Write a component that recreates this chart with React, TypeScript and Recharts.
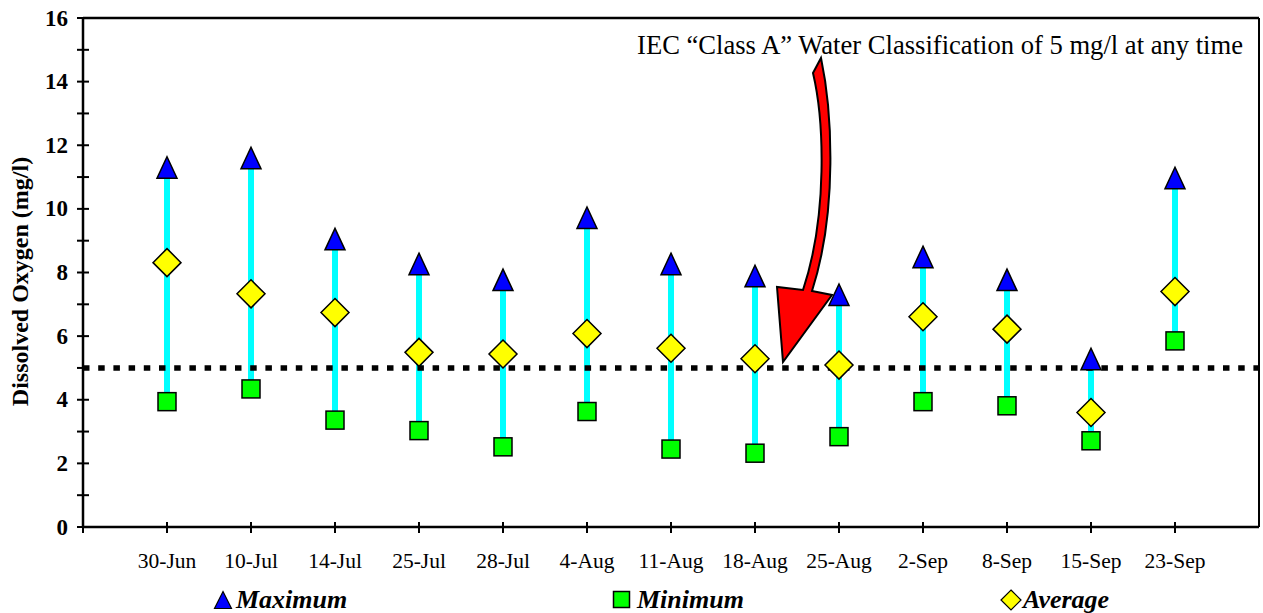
import React from 'react';
import {
  ComposedChart,
  Bar,
  Line,
  XAxis,
  YAxis,
  CartesianGrid,
  ReferenceLine,
  Legend,
} from 'recharts';

// sampling dates and dissolved oxygen readings (mg/l)
const dates = [
  '30-Jun', '10-Jul', '14-Jul', '25-Jul', '28-Jul', '4-Aug', '11-Aug',
  '18-Aug', '25-Aug', '2-Sep', '8-Sep', '15-Sep', '23-Sep',
];
const maximum = [11.3, 11.6, 9.05, 8.27, 7.77, 9.72, 8.27, 7.89, 7.3, 8.49, 7.77, 5.28, 10.97];
const minimum = [3.94, 4.34, 3.36, 3.03, 2.52, 3.63, 2.45, 2.32, 2.84, 3.94, 3.81, 2.71, 5.85];
const average = [8.31, 7.33, 6.74, 5.49, 5.44, 6.08, 5.62, 5.29, 5.09, 6.61, 6.22, 3.6, 7.4];

const yTicks = [0, 1, 2, 3, 4, 5, 6, 7, 8, 9, 10, 11, 12, 13, 14, 15, 16];
const gridValues = [2, 4, 6, 8, 10, 12, 14];
const classALimit = 5;

const W = 1263;
const H = 613;
const SERIF = '"Liberation Serif", "DejaVu Serif", "Noto Serif", Tinos, FreeSerif, "Times New Roman", Times, serif';

const rows = dates.map((date, i) => ({
  date,
  max: maximum[i],
  min: minimum[i],
  avg: average[i],
  range: [minimum[i], maximum[i]],
}));

function triangle(cx: number, cy: number, w: number, h: number) {
  return `${cx},${cy - h / 2} ${cx + w / 2},${cy + h / 2} ${cx - w / 2},${cy + h / 2}`;
}

function diamond(cx: number, cy: number, r: number) {
  return `${cx},${cy - r} ${cx + r},${cy} ${cx},${cy + r} ${cx - r},${cy}`;
}

const renderMax = (p: any) => (
  <polygon key={`max-${p.index}`} points={triangle(p.cx, p.cy, 20, 21.5)}
    fill="#0000ff" stroke="#000" strokeWidth={1.5} />
);

const renderMin = (p: any) => (
  <rect key={`min-${p.index}`} x={p.cx - 9} y={p.cy - 9} width={18} height={18}
    fill="#00ff00" stroke="#000" strokeWidth={1.5} />
);

const renderAvg = (p: any) => (
  <polygon key={`avg-${p.index}`} points={diamond(p.cx, p.cy, 14)}
    fill="#ffff00" stroke="#000" strokeWidth={1.5} />
);

function DateTick({ x, y, payload, index }: any) {
  return (
    <g>
      {/* extra mark at the left corner of the axis */}
      {index === 0 && (
        <line x1={x - 84} x2={x - 84} y1={y - 5} y2={y + 6} stroke="#000" strokeWidth={2} />
      )}
      <line x1={x} x2={x} y1={y - 5} y2={y + 6} stroke="#000" strokeWidth={2} />
      <text x={x} y={y + 41} textAnchor="middle" fontFamily={SERIF} fontSize={21.5} fill="#000">
        {payload.value}
      </text>
    </g>
  );
}

function ValueTick({ x, y, payload }: any) {
  const major = payload.value % 2 === 0;
  return (
    <g>
      <line x1={x - 6} x2={x + 6} y1={y} y2={y} stroke="#000" strokeWidth={2} />
      {major && (
        <text x={x - 15} y={y} textAnchor="end" dominantBaseline="central"
          fontFamily={SERIF} fontWeight="bold" fontSize={23} fill="#000">
          {payload.value}
        </text>
      )}
    </g>
  );
}

function AxisTitle({ viewBox }: any) {
  const cx = 20;
  const cy = viewBox.y + viewBox.height / 2 + 9;
  return (
    <text x={cx} y={cy} transform={`rotate(-90 ${cx} ${cy})`} textAnchor="middle"
      dominantBaseline="central" fontFamily={SERIF} fontWeight="bold" fontSize={24} fill="#000">
      Dissolved Oxygen (mg/l)
    </text>
  );
}

const legendText: React.CSSProperties = {
  position: 'absolute',
  top: 0,
  fontFamily: SERIF,
  fontWeight: 'bold',
  fontStyle: 'italic',
  fontSize: 26,
  lineHeight: '26px',
};

function LegendRow() {
  return (
    <div style={{ position: 'relative', width: W, height: 26 }}>
      <svg style={{ position: 'absolute', left: 213, top: 3 }} width={20} height={20}>
        <polygon points={triangle(10, 10, 17, 17)} fill="#0000ff" stroke="#000" strokeWidth={1.2} />
      </svg>
      <span style={{ ...legendText, left: 236 }}>Maximum</span>
      <svg style={{ position: 'absolute', left: 612, top: 3 }} width={20} height={20}>
        <rect x={1.5} y={1.5} width={16} height={16} fill="#00ff00" stroke="#000" strokeWidth={1.5} />
      </svg>
      <span style={{ ...legendText, left: 637 }}>Minimum</span>
      <svg style={{ position: 'absolute', left: 1000, top: 2 }} width={22} height={22}>
        <polygon points={diamond(11, 11, 10)} fill="#ffff00" stroke="#000" strokeWidth={1.2} />
      </svg>
      <span style={{ ...legendText, left: 1023 }}>Average</span>
    </div>
  );
}

// callout text and curved red arrow pointing at the 5 mg/l line
function ClassANote() {
  return (
    <svg width={W} height={H} style={{ position: 'absolute', left: 0, top: 0, pointerEvents: 'none' }}>
      <text x={1243} y={45} textAnchor="end" dominantBaseline="central"
        fontFamily={SERIF} fontSize={26.6} fill="#000">
        IEC “Class A” Water Classification of 5 mg/l at any time
      </text>
      <path
        d="M 813 73 L 821 58 C 832 110, 838 210, 812 291 L 832 295 L 783 362 L 777 287 L 803 290 C 828 215, 824 120, 813 73 Z"
        fill="#ff0000" stroke="#000" strokeWidth={2} strokeLinejoin="miter" />
    </svg>
  );
}

export default function App() {
  return (
    <div style={{ position: 'absolute', left: 0, top: 0, width: W, height: H, background: '#fff' }}>
      <ComposedChart width={W} height={H} data={rows}
        margin={{ top: 18, right: 0, bottom: 0, left: 0 }}>
        <CartesianGrid vertical={false} horizontalValues={gridValues}
          stroke="#333" strokeDasharray="6 6.3" />
        <XAxis dataKey="date" height={60} padding={{ left: 42, right: 42 }}
          axisLine={{ stroke: '#000', strokeWidth: 2.5 }} tickLine={false}
          tickSize={0} tickMargin={0} interval={0} tick={<DateTick />} />
        <YAxis yAxisId="left" width={83} domain={[0, 16]} ticks={yTicks} interval={0}
          axisLine={{ stroke: '#000', strokeWidth: 2.5 }} tickLine={false}
          tickSize={0} tickMargin={0} tick={<ValueTick />} label={<AxisTitle />} />
        <YAxis yAxisId="right" orientation="right" width={4} domain={[0, 16]}
          tick={false} tickLine={false} axisLine={{ stroke: '#000', strokeWidth: 2 }} />
        <ReferenceLine yAxisId="left" y={16} stroke="#000" strokeWidth={2.5} />
        <Bar yAxisId="left" dataKey="range" barSize={6} fill="#00ffff" isAnimationActive={false} />
        <ReferenceLine yAxisId="left" y={classALimit} stroke="#000" strokeWidth={5.5}
          strokeDasharray="6.5 8.7" />
        <Line yAxisId="left" dataKey="min" stroke="none" dot={renderMin} activeDot={false}
          isAnimationActive={false} />
        <Line yAxisId="left" dataKey="max" stroke="none" dot={renderMax} activeDot={false}
          isAnimationActive={false} />
        <Line yAxisId="left" dataKey="avg" stroke="none" dot={renderAvg} activeDot={false}
          isAnimationActive={false} />
        <Legend verticalAlign="bottom" content={<LegendRow />}
          wrapperStyle={{ left: 0, width: W }} />
      </ComposedChart>
      <ClassANote />
    </div>
  );
}
